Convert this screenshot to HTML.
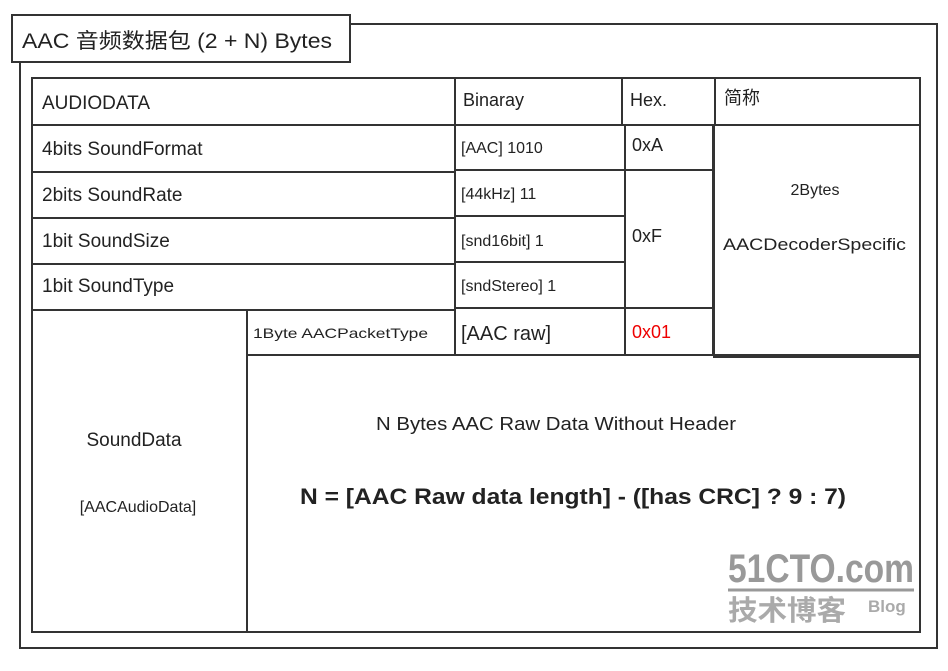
<!DOCTYPE html>
<html><head><meta charset="utf-8"><style>
html,body{margin:0;padding:0;background:#fff;}
svg text{font-family:"Liberation Sans","Noto Sans CJK SC",sans-serif;fill:#222;}
</style></head><body>
<svg width="948" height="666" viewBox="0 0 948 666" xmlns="http://www.w3.org/2000/svg">
<g fill="none" stroke="#333" stroke-width="2">
<rect x="20" y="24" width="917" height="624"/>
<rect x="12" y="15" width="338" height="47" fill="#fff"/>
<rect x="32" y="78" width="423" height="47"/>
<rect x="32" y="125" width="423" height="47"/>
<rect x="32" y="172" width="423" height="46"/>
<rect x="32" y="218" width="423" height="46"/>
<rect x="32" y="264" width="423" height="46"/>
<rect x="32" y="310" width="215" height="322"/>
<rect x="247" y="310" width="208" height="45"/>
<rect x="247" y="355" width="673" height="277"/>
<rect x="455" y="78" width="167" height="47"/>
<rect x="622" y="78" width="93" height="47"/>
<rect x="715" y="78" width="205" height="47"/>
<rect x="455" y="125" width="170" height="45"/>
<rect x="455" y="170" width="170" height="46"/>
<rect x="455" y="216" width="170" height="46"/>
<rect x="455" y="262" width="170" height="46"/>
<rect x="455" y="308" width="170" height="47"/>
<rect x="625" y="125" width="88" height="45"/>
<rect x="625" y="170" width="88" height="138"/>
<rect x="625" y="308" width="88" height="47"/>
<rect x="714" y="125" width="206" height="232"/>
</g>
<text x="22" y="48" font-size="21" textLength="310" lengthAdjust="spacingAndGlyphs">AAC 音频数据包 (2 + N) Bytes</text>
<text x="42" y="109" font-size="19">AUDIODATA</text>
<text x="42" y="155" font-size="19">4bits SoundFormat</text>
<text x="42" y="201" font-size="19">2bits SoundRate</text>
<text x="42" y="247" font-size="19">1bit SoundSize</text>
<text x="42" y="292" font-size="19">1bit SoundType</text>
<text x="253" y="338" font-size="14" textLength="175" lengthAdjust="spacingAndGlyphs">1Byte AACPacketType</text>
<text x="463" y="106" font-size="18">Binaray</text>
<text x="630" y="106" font-size="18">Hex.</text>
<text x="724" y="104" font-size="18">简称</text>
<text x="461" y="153" font-size="16">[AAC] 1010</text>
<text x="461" y="199" font-size="16">[44kHz] 11</text>
<text x="461" y="246" font-size="16">[snd16bit] 1</text>
<text x="461" y="291" font-size="16">[sndStereo] 1</text>
<text x="461" y="340" font-size="20">[AAC raw]</text>
<text x="632" y="151" font-size="18">0xA</text>
<text x="632" y="242" font-size="18">0xF</text>
<text x="632" y="338" font-size="18" style="fill:#e00">0x01</text>
<text x="815" y="195" font-size="16" text-anchor="middle">2Bytes</text>
<text x="723" y="250" font-size="17" textLength="183" lengthAdjust="spacingAndGlyphs">AACDecoderSpecific</text>
<text x="134" y="446" font-size="19" text-anchor="middle">SoundData</text>
<text x="138" y="512" font-size="16" text-anchor="middle">[AACAudioData]</text>
<text x="376" y="430" font-size="18" textLength="360" lengthAdjust="spacingAndGlyphs">N Bytes  AAC Raw Data  Without Header</text>
<text x="300" y="504" font-size="22" font-weight="bold" textLength="546" lengthAdjust="spacingAndGlyphs">N = [AAC Raw data length] - ([has CRC] ? 9 : 7)</text>
<text x="728" y="582" font-size="40" font-weight="bold" textLength="186" lengthAdjust="spacingAndGlyphs" style="fill:#999">51CTO.com</text>
<line x1="728" y1="590" x2="914" y2="590" stroke="#999" stroke-width="3"/>
<text x="728" y="620" font-size="28" font-weight="bold" textLength="118" lengthAdjust="spacingAndGlyphs" style="fill:#aaa">技术博客</text>
<text x="868" y="612" font-size="17" font-weight="bold" style="fill:#aaa">Blog</text>
</svg>
</body></html>
